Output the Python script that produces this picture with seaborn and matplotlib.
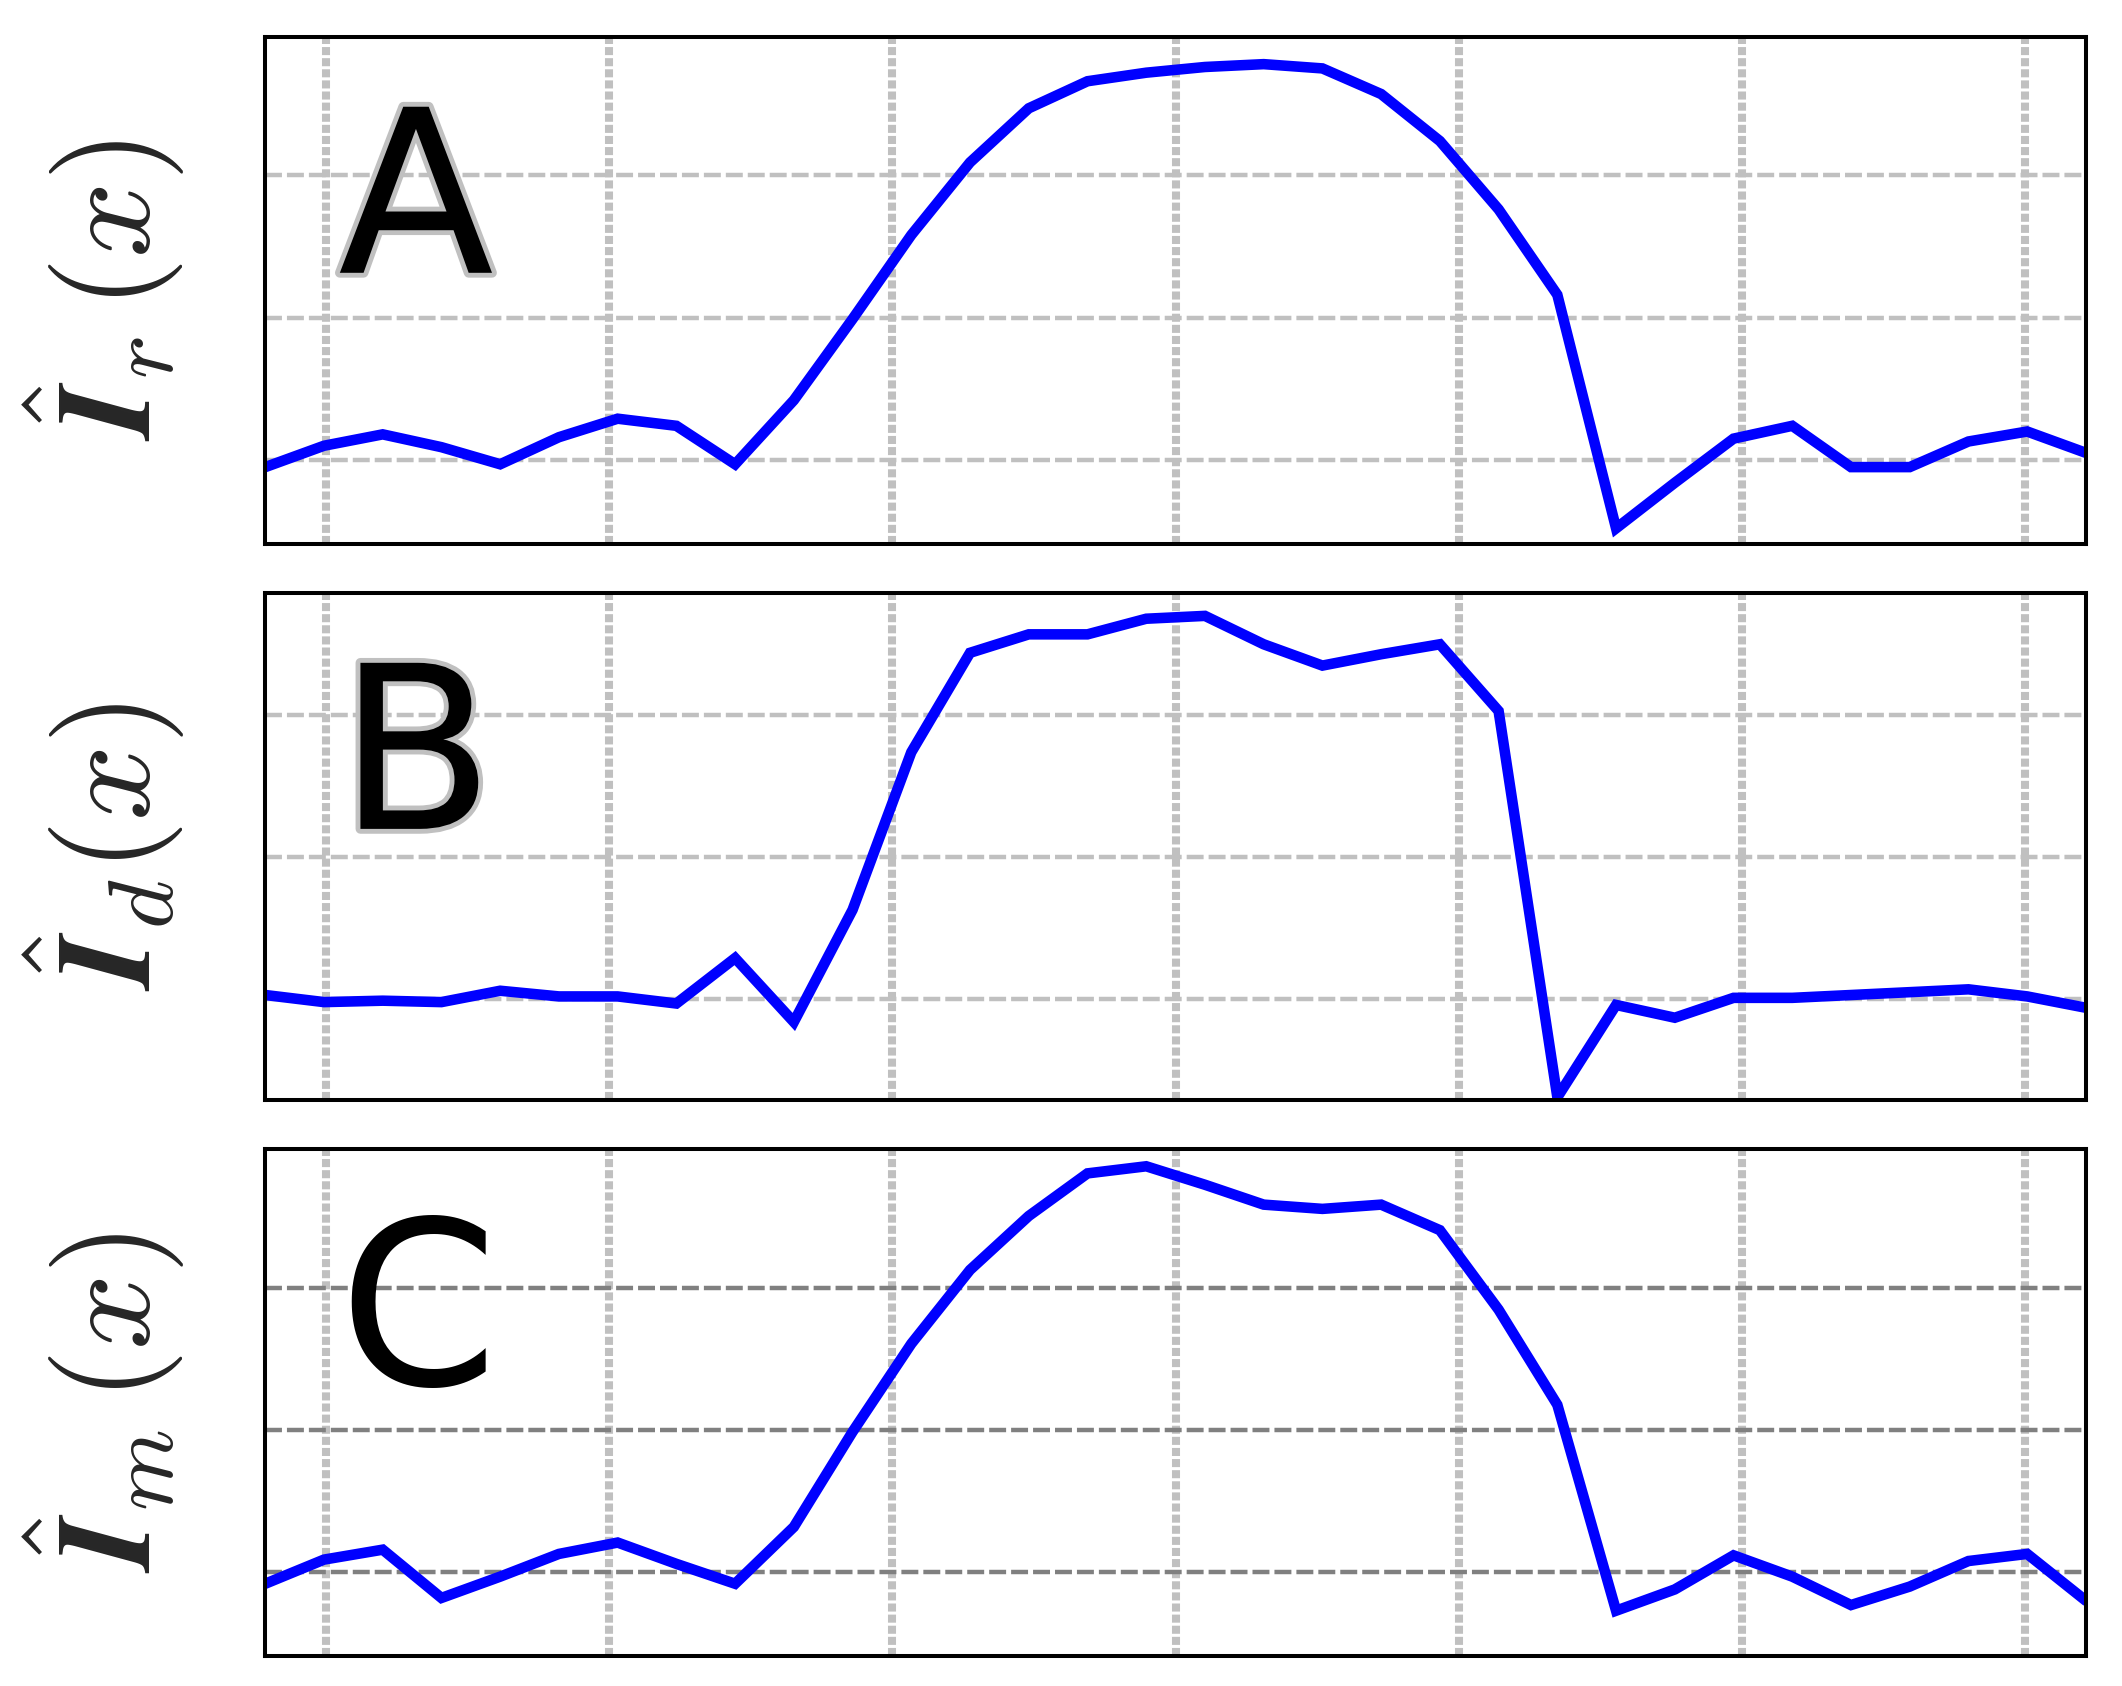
import numpy as np
import matplotlib
matplotlib.use("Agg")
import matplotlib.pyplot as plt
import matplotlib.patheffects as pe
import seaborn as sns

# -----------------------------
# Data
# -----------------------------
x_pos = np.linspace(-3.215, 3.215, 32)

I_r = [-0.05, 0.10, 0.18, 0.09, -0.03, 0.16, 0.29, 0.24, -0.03, 0.42,
       0.99, 1.58, 2.09, 2.47, 2.66, 2.72, 2.76, 2.78, 2.75, 2.57,
       2.24, 1.76, 1.16, -0.48, -0.16, 0.15, 0.24, -0.05, -0.05, 0.13,
       0.20, 0.05]

I_d = [0.03, -0.02, -0.01, -0.02, 0.06, 0.02, 0.02, -0.03, 0.29, -0.16,
       0.63, 1.74, 2.44, 2.57, 2.57, 2.68, 2.70, 2.50, 2.35, 2.43,
       2.50, 2.03, -0.69, -0.04, -0.13, 0.01, 0.01, 0.03, 0.05, 0.07,
       0.02, -0.06]

I_m = [-0.08, 0.09, 0.16, -0.18, -0.03, 0.13, 0.21, 0.06, -0.08, 0.32,
       0.99, 1.61, 2.13, 2.51, 2.81, 2.86, 2.73, 2.59, 2.56, 2.59,
       2.41, 1.85, 1.18, -0.27, -0.12, 0.12, -0.03, -0.23, -0.10, 0.08,
       0.13, -0.20]

series = [I_r, I_d, I_m]
letters = ["A", "B", "C"]
ylabels = [r"$\hat{\boldsymbol{I}}_r\,(x)$",
           r"$\hat{\boldsymbol{I}}_d(x)$",
           r"$\hat{\boldsymbol{I}}_m\,(x)$"]
ylims = [(-0.59, 2.97), (-0.71, 2.86), (-0.59, 2.98)]
hgrid_colors = ["#c0c0c0", "#c0c0c0", "#808080"]
x_ticks = [-3, -2, -1, 0, 1, 2, 3]
y_ticks = [0, 1, 2]

# -----------------------------
# Style
# -----------------------------
sns.set_style("white")
plt.rcParams["font.family"] = ["DejaVu Sans"]
plt.rcParams["mathtext.fontset"] = "cm"
plt.rcParams["lines.scale_dashes"] = False

fig, axes = plt.subplots(3, 1, figsize=(10.61, 8.43), dpi=200)
fig.subplots_adjust(left=0.125, right=0.983, top=0.978, bottom=0.0177, hspace=0.097)

for ax, y, letter, lab, yl, hc in zip(axes, series, letters, ylabels, ylims, hgrid_colors):
    sns.lineplot(x=x_pos, y=y, ax=ax, color="#0000ff")
    for ln in ax.lines:
        ln.set_linewidth(3.8)
        ln.set_solid_joinstyle("miter")
    ax.set_xlim(x_pos[0], x_pos[-1])
    ax.set_ylim(*yl)
    ax.set_xticks(x_ticks)
    ax.set_yticks(y_ticks)
    ax.tick_params(length=0, labelbottom=False, labelleft=False)
    ax.set_axisbelow(True)
    ax.xaxis.grid(True, color="#c0c0c0", linewidth=2.9, linestyle=(0, (2.9, 1.1)))
    ax.yaxis.grid(True, color=hc, linewidth=1.6, linestyle=(0, (6.1, 1.8)))
    for sp in ax.spines.values():
        sp.set_visible(True)
        sp.set_color("black")
        sp.set_linewidth(1.45)

    ax.set_ylabel(lab, fontsize=48)
    ax.yaxis.set_label_coords(-0.043, 0.5)

    t = ax.text(0.04, 0.535, letter, transform=ax.transAxes, fontsize=82,
                ha="left", va="baseline", color="black")
    if letter != "C":
        t.set_path_effects([pe.withStroke(linewidth=3.5, foreground="#c0c0c0")])

plt.savefig("out.png", dpi=200)
